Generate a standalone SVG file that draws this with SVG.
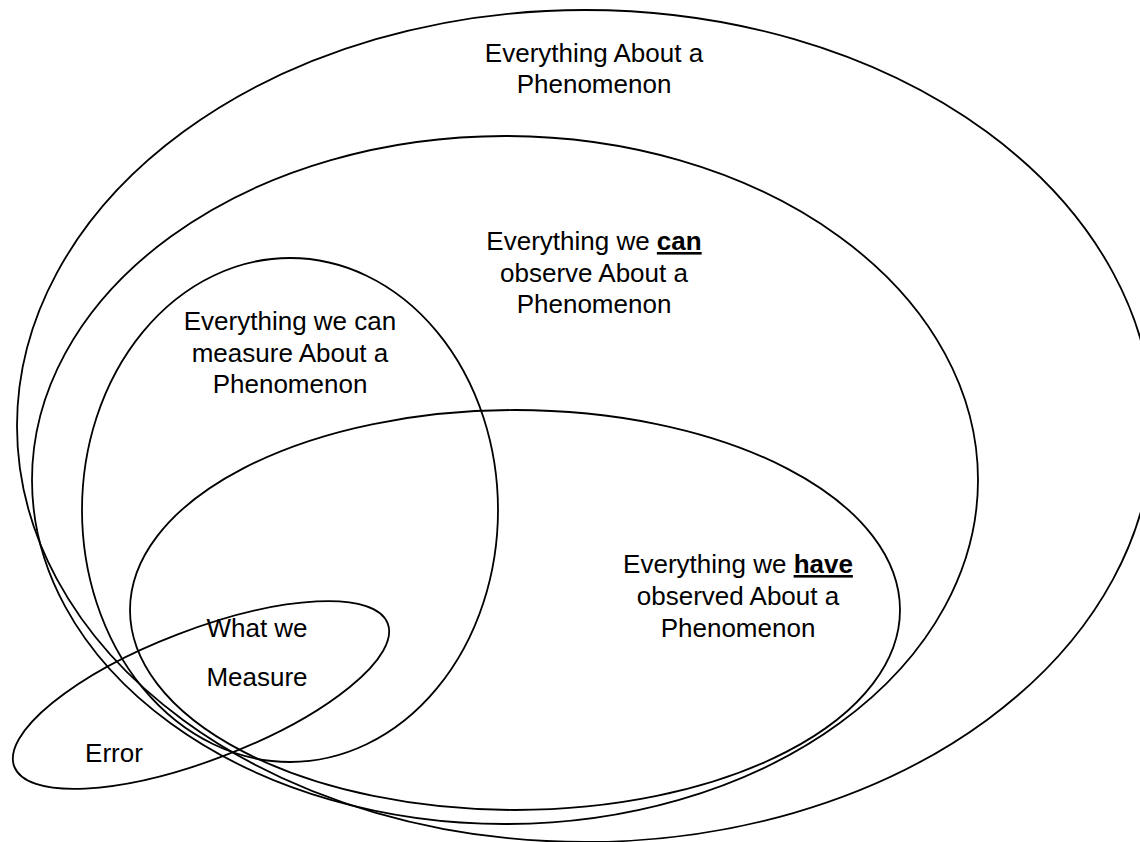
<svg xmlns="http://www.w3.org/2000/svg" width="1140" height="842" viewBox="0 0 1140 842">
  <style>
    .set { fill: none; stroke: #000; stroke-width: 1.8; }
    .lbl { font-family: "Liberation Sans", Arial, sans-serif; font-size: 26px; fill: #000; text-anchor: middle; }
    .em { font-weight: bold; text-decoration: underline; }
  </style>
  <rect width="1140" height="842" fill="#fff"/>

  <g id="everything">
    <ellipse class="set" cx="585" cy="426" rx="568" ry="416"/>
    <text class="lbl" x="594" y="62">Everything About a</text>
    <text class="lbl" x="594" y="93">Phenomenon</text>
  </g>

  <g id="can-observe">
    <ellipse class="set" cx="505" cy="480" rx="473" ry="344"/>
    <text class="lbl" x="594" y="250">Everything we <tspan class="em">can</tspan></text>
    <text class="lbl" x="594" y="282">observe About a</text>
    <text class="lbl" x="594" y="313">Phenomenon</text>
  </g>

  <g id="can-measure">
    <ellipse class="set" cx="290" cy="510" rx="208" ry="252"/>
    <text class="lbl" x="290" y="330">Everything we can</text>
    <text class="lbl" x="290" y="362">measure About a</text>
    <text class="lbl" x="290" y="393">Phenomenon</text>
  </g>

  <g id="have-observed">
    <ellipse class="set" cx="515" cy="610" rx="385" ry="200"/>
    <text class="lbl" x="738" y="573">Everything we <tspan class="em">have</tspan></text>
    <text class="lbl" x="738" y="605">observed About a</text>
    <text class="lbl" x="738" y="637">Phenomenon</text>
  </g>

  <g id="what-we-measure">
    <ellipse class="set" cx="201" cy="695" rx="200" ry="65" transform="rotate(-21 201 695)"/>
    <text class="lbl" x="257" y="637">What we</text>
    <text class="lbl" x="257" y="686">Measure</text>
    <text class="lbl" x="114" y="762">Error</text>
  </g>

  <g id="connectors"/>
</svg>
